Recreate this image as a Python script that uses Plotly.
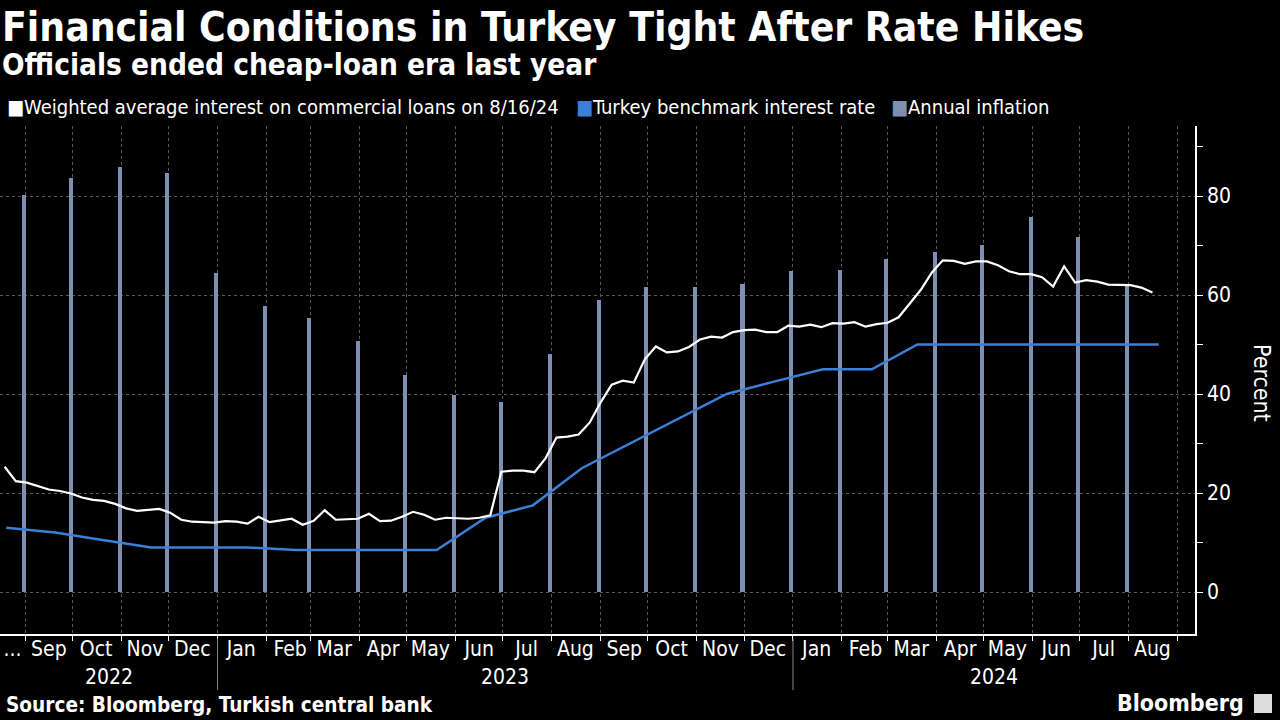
import pandas as pd
import plotly.graph_objects as go

# ---------------- data ----------------
# Weighted average interest on commercial loans (weekly, ending 8/16/24)
loan_rate = [
    25.3, 22.4, 22.1, 21.4, 20.7, 20.4, 19.9, 19.1, 18.6, 18.4,
    17.8, 16.9, 16.4, 16.6, 16.8, 16.0, 14.6, 14.2, 14.1, 14.0,
    14.3, 14.2, 13.8, 15.2, 14.1, 14.4, 14.8, 13.6, 14.4, 16.5,
    14.6, 14.7, 14.8, 15.8, 14.3, 14.4, 15.2, 16.2, 15.6, 14.6,
    15.0, 14.9, 14.8, 15.0, 15.5, 24.3, 24.5, 24.5, 24.2, 27.0,
    31.2, 31.4, 31.8, 34.2, 38.3, 41.9, 42.7, 42.3, 47.0, 49.6,
    48.4, 48.6, 49.5, 51.0, 51.6, 51.4, 52.5, 52.9, 53.0, 52.5,
    52.5, 53.8, 53.6, 54.0, 53.5, 54.3, 54.2, 54.5, 53.6, 54.1,
    54.4, 55.5, 58.2, 61.0, 64.5, 67.0, 66.9, 66.3, 66.8, 66.8,
    66.0, 64.8, 64.2, 64.2, 63.6, 61.7, 65.8, 62.5, 63.0, 62.7,
    62.1, 62.0, 62.0, 61.5, 60.5,
]
loan_start = "2022-08-19"

# Turkey benchmark interest rate (monthly, Aug 2022 - Aug 2024)
policy_rate = [13, 12, 10.5, 9, 9, 9, 8.5, 8.5, 8.5, 8.5, 15, 17.5, 25,
               30, 35, 40, 42.5, 45, 45, 50, 50, 50, 50, 50, 50]

# Annual inflation (monthly, Aug 2022 - Jul 2024)
inflation = [80.3, 83.6, 85.8, 84.7, 64.4, 57.8, 55.4, 50.7, 43.8, 39.7,
             38.3, 48.1, 59.0, 61.7, 61.7, 62.2, 64.9, 65.1, 67.2, 68.7,
             70.1, 75.7, 71.8, 61.8]

month_labels = ["...", "Sep", "Oct", "Nov", "Dec", "Jan", "Feb", "Mar", "Apr",
                "May", "Jun", "Jul", "Aug", "Sep", "Oct", "Nov", "Dec", "Jan",
                "Feb", "Mar", "Apr", "May", "Jun", "Jul", "Aug"]
years = ["2022", "2023", "2024"]

# ---------------- dates ----------------
loan_dates = pd.date_range(loan_start, periods=len(loan_rate), freq="7D")
policy_dates = pd.date_range("2022-08-01", periods=len(policy_rate), freq="MS") + pd.Timedelta(days=19)
infl_dates = pd.date_range("2022-09-01", periods=len(inflation), freq="MS") - pd.Timedelta(days=1)

x_start = pd.Timestamp("2022-08-16")
x_end = pd.Timestamp("2024-09-12")

month_starts = pd.date_range("2022-09-01", "2024-09-01", freq="MS")
label_pos = []
for i, ms in enumerate(pd.date_range("2022-08-01", periods=len(month_labels), freq="MS")):
    if i == 0:
        label_pos.append(x_start + (month_starts[0] - x_start) / 2)
    else:
        label_pos.append(ms + pd.Timedelta(days=15))

# ---------------- geometry helpers ----------------
W, H = 1280, 720
ML, MR, MT, MB = 0, 85, 126, 86
PW = W - ML - MR
PH = H - MT - MB


def px(p):
    return (p - ML) / PW


def py(p):
    return (H - MB - p) / PH


BLUE = "#3a80d6"
BAR = "#7d8fb3"
GRID = "#5a5a5a"
FONT = "DejaVu Sans Condensed, DejaVu Sans, sans-serif"

fig = go.Figure()
fig.add_trace(go.Bar(
    x=infl_dates, y=inflation, width=2.6 * 86400000,
    marker=dict(color=BAR, line=dict(width=0)), name="Annual inflation",
    showlegend=False,
))
fig.add_trace(go.Scatter(
    x=policy_dates, y=policy_rate, mode="lines",
    line=dict(color=BLUE, width=2.5), name="Turkey benchmark interest rate",
    showlegend=False,
))
fig.add_trace(go.Scatter(
    x=loan_dates, y=loan_rate, mode="lines",
    line=dict(color="white", width=2.2),
    name="Weighted average interest on commercial loans on 8/16/24",
    showlegend=False,
))
# carrier for the month-label axis
fig.add_trace(go.Scatter(x=label_pos, y=[None] * len(label_pos), xaxis="x2",
                         mode="lines", showlegend=False, hoverinfo="skip"))

fig.update_layout(
    width=W, height=H,
    paper_bgcolor="black", plot_bgcolor="black",
    margin=dict(l=ML, r=MR, t=MT, b=MB),
    bargap=0,
    font=dict(family=FONT, color="white"),
    xaxis=dict(
        type="date", range=[x_start, x_end],
        tickmode="array", tickvals=month_starts, showticklabels=False,
        ticks="outside", ticklen=5, tickcolor="white", tickwidth=1,
        showgrid=True, gridcolor=GRID, griddash="dot", gridwidth=1,
        showline=True, linecolor="white", linewidth=1.5,
        zeroline=False,
    ),
    xaxis2=dict(
        type="date", range=[x_start, x_end], overlaying="x", anchor="y",
        side="bottom", matches="x",
        tickmode="array", tickvals=label_pos, ticktext=month_labels,
        ticks="", showgrid=False, showline=False, zeroline=False,
        tickfont=dict(family=FONT, size=21, color="white"),
    ),
    yaxis=dict(
        side="right", range=[-(H - MB - 592) / 4.95, (592 - MT) / 4.95],
        tickmode="linear", tick0=0, dtick=20,
        ticks="outside", ticklen=6, tickcolor="white",
        showgrid=True, gridcolor=GRID, griddash="dot", gridwidth=1,
        showline=True, linecolor="white", linewidth=1.5,
        zeroline=False,
        tickfont=dict(family=FONT, size=21, color="white"),
        minor=dict(dtick=10, tick0=0, ticks="outside", ticklen=6,
                   tickcolor="white", showgrid=False),
    ),
)

ann = []
ann.append(dict(text="<b>Financial Conditions in Turkey Tight After Rate Hikes</b>",
                x=px(0), y=py(27), xref="paper", yref="paper",
                xanchor="left", yanchor="middle", showarrow=False,
                font=dict(family=FONT, size=40.4, color="white")))
ann.append(dict(text="<b>Officials ended cheap-loan era last year</b>",
                x=px(0), y=py(65), xref="paper", yref="paper",
                xanchor="left", yanchor="middle", showarrow=False,
                font=dict(family=FONT, size=29.5, color="white")))

legend_items = [
    ("white", "Weighted average interest on commercial loans on 8/16/24", 5),
    (BLUE, "Turkey benchmark interest rate", 574),
    (BAR, "Annual inflation", 889),
]
for col, txt, x0 in legend_items:
    ann.append(dict(text=f"<span style='color:{col}'>■</span>{txt}",
                    x=px(x0), y=py(107), xref="paper", yref="paper",
                    xanchor="left", yanchor="middle", showarrow=False,
                    font=dict(family=FONT, size=20, color="white")))

# year labels centered on visible span of each year
bounds = [x_start, pd.Timestamp("2023-01-01"), pd.Timestamp("2024-01-01"), x_end]
for i, yr in enumerate(years):
    mid = bounds[i] + (bounds[i + 1] - bounds[i]) / 2
    ann.append(dict(text=yr, x=mid, y=py(677), xref="x", yref="paper",
                    xanchor="center", yanchor="middle", showarrow=False,
                    font=dict(family=FONT, size=21, color="white")))

ann.append(dict(text="Percent", x=px(1262), y=py(383), xref="paper", yref="paper",
                textangle=90, xanchor="center", yanchor="middle", showarrow=False,
                font=dict(family=FONT, size=23, color="white")))
ann.append(dict(text="<b>Source: Bloomberg, Turkish central bank</b>",
                x=px(4), y=py(705), xref="paper", yref="paper",
                xanchor="left", yanchor="middle", showarrow=False,
                font=dict(family=FONT, size=20.6, color="white")))
ann.append(dict(text="<b>Bloomberg</b>",
                x=px(1246), y=py(703), xref="paper", yref="paper",
                xanchor="right", yanchor="middle", showarrow=False,
                font=dict(family=FONT, size=23, color="white")))
fig.update_layout(annotations=ann)

shapes = []
for b in bounds[1:3]:
    shapes.append(dict(type="line", xref="x", yref="paper", x0=b, x1=b,
                       y0=py(638), y1=py(690), line=dict(color="#888888", width=1)))
shapes.append(dict(type="rect", xref="paper", yref="paper",
                   x0=px(1254), x1=px(1272), y0=py(713), y1=py(694),
                   fillcolor="#dddddd", line=dict(width=0)))
fig.update_layout(shapes=shapes)

fig.write_html("out.html", config={"displayModeBar": False},
               post_script="document.body.style.margin='0';document.body.style.overflow='hidden';")
